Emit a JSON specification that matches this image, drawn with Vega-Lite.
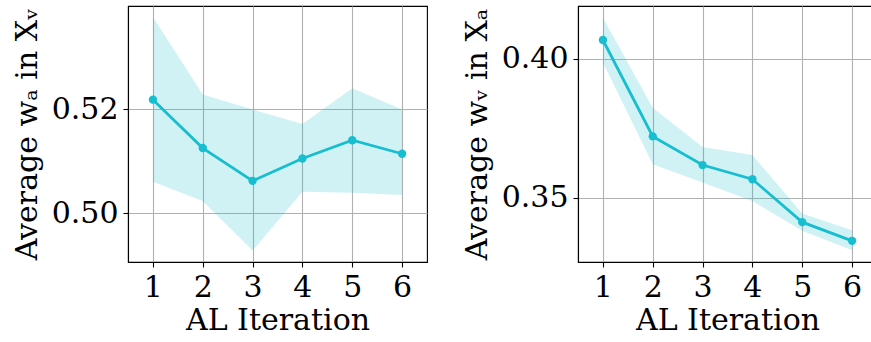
{
  "$schema": "https://vega.github.io/schema/vega-lite/v6.json",
  "padding": {"left": 11, "top": 5, "right": 0, "bottom": 0},
  "spacing": 33,
  "config": {
    "font": "DejaVu Serif",
    "view": {"stroke": "#000000", "strokeWidth": 1.1},
    "axis": {
      "labelFont": "DejaVu Serif",
      "titleFont": "DejaVu Serif",
      "labelFontSize": 30,
      "titleFontSize": 30,
      "titleFontWeight": "normal",
      "labelColor": "#000000",
      "titleColor": "#000000",
      "tickColor": "#000000",
      "domainColor": "#000000",
      "domainWidth": 1.1,
      "tickWidth": 1.1,
      "tickSize": 5,
      "labelPadding": 5,
      "gridColor": "#b0b0b0",
      "gridWidth": 1.1,
      "gridOpacity": 1
    }
  },
  "datasets": {
    "left": [
      {"iter": 1, "mean": 0.5218, "lo": 0.5060, "hi": 0.5377},
      {"iter": 2, "mean": 0.5125, "lo": 0.5023, "hi": 0.5228},
      {"iter": 3, "mean": 0.5062, "lo": 0.4928, "hi": 0.5199},
      {"iter": 4, "mean": 0.5105, "lo": 0.5041, "hi": 0.5171},
      {"iter": 5, "mean": 0.5140, "lo": 0.5039, "hi": 0.5240},
      {"iter": 6, "mean": 0.5114, "lo": 0.5035, "hi": 0.5199}
    ],
    "right": [
      {"iter": 1, "mean": 0.4067, "lo": 0.3986, "hi": 0.4147},
      {"iter": 2, "mean": 0.3721, "lo": 0.3621, "hi": 0.3824},
      {"iter": 3, "mean": 0.3618, "lo": 0.3555, "hi": 0.3683},
      {"iter": 4, "mean": 0.3567, "lo": 0.3489, "hi": 0.3654},
      {"iter": 5, "mean": 0.3413, "lo": 0.3382, "hi": 0.3444},
      {"iter": 6, "mean": 0.3346, "lo": 0.3312, "hi": 0.3384}
    ]
  },
  "hconcat": [
    {
      "width": 299,
      "height": 256,
      "data": {"name": "left"},
      "encoding": {
        "x": {"field": "iter", "type": "quantitative", "scale": {"domain": [0.5, 6.5], "nice": false, "zero": false},
              "axis": {"values": [1, 2, 3, 4, 5, 6], "format": "d", "title": "AL Iteration", "titlePadding": 3}}
      },
      "layer": [
        {
          "mark": {"type": "area", "color": "#17becf", "opacity": 0.2},
          "encoding": {
            "y": {"field": "lo", "type": "quantitative", "scale": {"domain": [0.4906, 0.5398], "nice": false, "zero": false},
                  "axis": {"values": [0.50, 0.52], "format": ".2f", "title": "Average wₐ in Xᵥ", "titlePadding": 9}},
            "y2": {"field": "hi"}
          }
        },
        {
          "mark": {"type": "line", "color": "#17becf", "strokeWidth": 2.8},
          "encoding": {"y": {"field": "mean", "type": "quantitative"}}
        },
        {
          "mark": {"type": "circle", "color": "#17becf", "opacity": 1, "size": 70},
          "encoding": {"y": {"field": "mean", "type": "quantitative"}}
        }
      ]
    },
    {
      "width": 299,
      "height": 256,
      "data": {"name": "right"},
      "encoding": {
        "x": {"field": "iter", "type": "quantitative", "scale": {"domain": [0.5, 6.5], "nice": false, "zero": false},
              "axis": {"values": [1, 2, 3, 4, 5, 6], "format": "d", "title": "AL Iteration", "titlePadding": 3}}
      },
      "layer": [
        {
          "mark": {"type": "area", "color": "#17becf", "opacity": 0.2},
          "encoding": {
            "y": {"field": "lo", "type": "quantitative", "scale": {"domain": [0.3270, 0.4189], "nice": false, "zero": false},
                  "axis": {"values": [0.35, 0.40], "format": ".2f", "title": "Average wᵥ in Xₐ", "titlePadding": 9}},
            "y2": {"field": "hi"}
          }
        },
        {
          "mark": {"type": "line", "color": "#17becf", "strokeWidth": 2.8},
          "encoding": {"y": {"field": "mean", "type": "quantitative"}}
        },
        {
          "mark": {"type": "circle", "color": "#17becf", "opacity": 1, "size": 70},
          "encoding": {"y": {"field": "mean", "type": "quantitative"}}
        }
      ]
    }
  ]
}
